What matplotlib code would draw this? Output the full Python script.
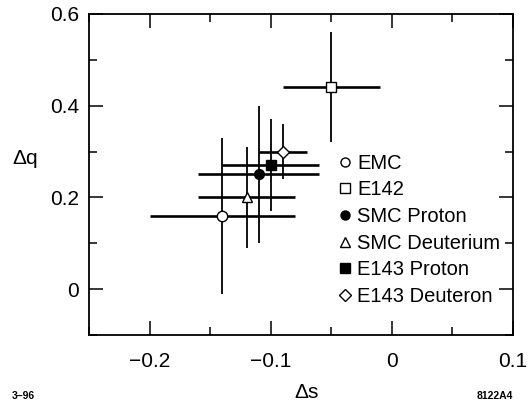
import matplotlib
matplotlib.use("Agg")
import matplotlib.pyplot as plt
from matplotlib.ticker import MultipleLocator, FixedFormatter, FixedLocator

plt.rcParams["font.family"] = ["Liberation Sans", "DejaVu Sans"]

# Δs, Δq and their uncertainties per experiment
labels = ["EMC", "E142", "SMC Proton", "SMC Deuterium", "E143 Proton", "E143 Deuteron"]
ds = [-0.14, -0.05, -0.11, -0.12, -0.10, -0.09]
ds_err = [0.06, 0.04, 0.05, 0.04, 0.04, 0.02]
dq = [0.16, 0.44, 0.25, 0.20, 0.27, 0.30]
dq_err = [0.17, 0.12, 0.15, 0.11, 0.10, 0.06]

markers = ["o", "s", "o", "^", "s", "D"]
filled = [False, False, True, False, True, False]
msizes = [7.5, 7, 7, 7.5, 7, 6.5]

fig = plt.figure(figsize=(5.28, 4.03), dpi=100)
ax = fig.add_axes([0.1686, 0.1687, 0.803, 0.7966])

# barras de erro: horizontais mais grossas que as verticais
for i in range(len(labels)):
    ax.errorbar(ds[i], dq[i], xerr=ds_err[i], fmt="none", ecolor="black",
                elinewidth=1.9, capsize=0, zorder=2)
    ax.errorbar(ds[i], dq[i], yerr=dq_err[i], fmt="none", ecolor="black",
                elinewidth=1.3, capsize=0, zorder=2)

for i in range(len(labels)):
    face = "black" if filled[i] else "white"
    ax.plot(ds[i], dq[i], linestyle="none", marker=markers[i],
            markersize=msizes[i], markerfacecolor=face,
            markeredgecolor="black", markeredgewidth=1.0, zorder=3)

leg_handles = []
for i in range(len(labels)):
    face = "black" if filled[i] else "white"
    h, = ax.plot([], [], linestyle="none", marker=markers[i],
                 markersize=6.5, markerfacecolor=face,
                 markeredgecolor="black", markeredgewidth=1.0)
    leg_handles.append(h)
ax.legend(leg_handles, labels, loc="upper left", bbox_to_anchor=(0.571, 0.59),
          frameon=False, fontsize=14.5, handlelength=0.6, handletextpad=0.3,
          labelspacing=0.38, borderaxespad=0)

ax.set_xlim(-0.25, 0.1)
ax.set_ylim(-0.1, 0.6)
ax.xaxis.set_major_locator(FixedLocator([-0.2, -0.1, 0.0, 0.1]))
ax.xaxis.set_major_formatter(FixedFormatter(["\u22120.2", "\u22120.1", "0", "0.1"]))
ax.xaxis.set_minor_locator(MultipleLocator(0.05))
ax.yaxis.set_major_locator(FixedLocator([0.0, 0.2, 0.4, 0.6]))
ax.yaxis.set_major_formatter(FixedFormatter(["0", "0.2", "0.4", "0.6"]))
ax.yaxis.set_minor_locator(MultipleLocator(0.1))

ax.tick_params(which="both", direction="in", top=True, right=True,
               labelsize=15, width=1.1)
ax.tick_params(axis="x", pad=12)
ax.tick_params(axis="y", pad=7)
ax.tick_params(which="major", length=10)
ax.tick_params(which="minor", length=6)
for s in ax.spines.values():
    s.set_linewidth(1.3)

ax.set_xlabel("\u0394s", fontsize=15, va="top")
ax.xaxis.set_label_coords(0.512, -0.148)
ax.set_ylabel("\u0394q", fontsize=15, rotation=0, va="center", ha="center")
ax.yaxis.set_label_coords(-0.15, 0.551)

fig.text(0.022, 0.01, "3\u201396", fontsize=7.5, fontweight="bold")
fig.text(0.9716, 0.01, "8122A4", fontsize=7.5, fontweight="bold", ha="right")

fig.savefig("out.png", dpi=100)
